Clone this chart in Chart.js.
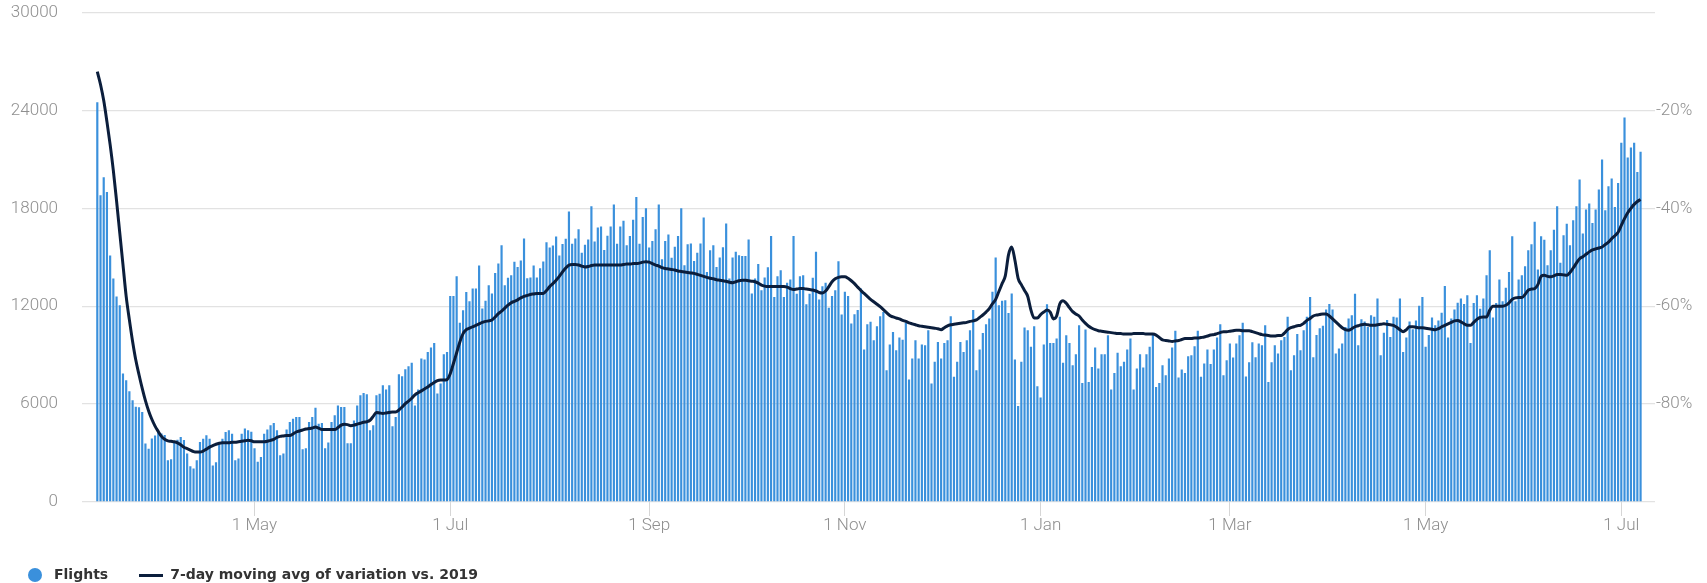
<!DOCTYPE html>
<html>
<head>
<meta charset="utf-8">
<script src="https://cdn.jsdelivr.net/npm/chart.js@4"></script>
<style>
  html, body { margin: 0; padding: 0; background: #fff; overflow: hidden; }
  #wrap { position: relative; margin-left: -8px; width: 1715px; height: 595px; }
</style>
</head>
<body>
<div id="wrap"><canvas id="flightsChart"></canvas></div>
<script>
// daily flights, first bar is Fri 13 Mar 2020, one row per week (Fri..Thu)
var firstDay = "2020-03-13";
var flights = [
  24500, 18800, 19900, 19000, 15100, 13700, 12600,
  12060, 7870, 7460, 6790, 6240, 5830, 5800,
  5520, 3580, 3270, 3890, 4070, 4290, 4200,
  4100, 2560, 2620, 3680, 3820, 3990, 3800,
  2970, 2190, 2050, 2560, 3680, 3880, 4090,
  3880, 2230, 2430, 3560, 3880, 4290, 4400,
  4190, 2560, 2660, 4190, 4500, 4400, 4300,
  3290, 2460, 2760, 4190, 4440, 4700, 4840,
  4400, 2860, 2970, 4440, 4900, 5100, 5210,
  5210, 3230, 3290, 4900, 5210, 5780, 4800,
  4840, 3290, 3640, 4900, 5310, 5920, 5820,
  5820, 3600, 3600, 5000, 5920, 6540, 6680,
  6600, 4400, 4700, 6540, 6640, 7150, 6890,
  7150, 4640, 5210, 7830, 7710, 8140, 8320,
  8530, 5920, 6890, 8790, 8730, 9200, 9470,
  9750, 6650, 7260, 9060, 9200, 12630, 12630,
  13840, 10980, 11750, 12870, 12300, 13080, 13080,
  14500, 11860, 12330, 13290, 12780, 14040, 14620,
  15740, 13290, 13740, 13900, 14720, 14410, 14800,
  16150, 13720, 13760, 14490, 13760, 14330, 14740,
  15920, 15590, 15720, 16270, 15110, 15810, 16140,
  17800, 15830, 16150, 16710, 15270, 15760, 16090,
  18130, 15960, 16830, 16890, 15440, 16320, 16890,
  18230, 15830, 16890, 17230, 15740, 16300, 17300,
  18700, 15830, 17460, 18010, 15600, 15990, 16710,
  18230, 14870, 15990, 16400, 14970, 15640, 16310,
  18010, 14510, 15790, 15850, 14770, 15280, 15840,
  17430, 14100, 15430, 15740, 14400, 14980, 15620,
  17070, 13700, 14980, 15330, 15130, 15070, 15070,
  16090, 12780, 13700, 14580, 12980, 13760, 14380,
  16300, 12570, 13840, 14200, 12570, 13430, 13630,
  16300, 12770, 13840, 13900, 12120, 12770, 13740,
  15330, 12410, 13230, 13430, 11900, 12620, 12980,
  14760, 11490, 12880, 12620, 10940, 11510, 11760,
  13080, 9340, 10900, 11040, 9910, 10770, 11380,
  11650, 8080, 9650, 10420, 9300, 10080, 9950,
  10980, 7510, 8800, 9910, 8800, 9650, 9610,
  10530, 7260, 8590, 9810, 8800, 9750, 9910,
  11380, 7670, 8590, 9810, 9200, 9910, 10530,
  11760, 8080, 9340, 10360, 10900, 11240, 12880,
  14980, 12060, 12330, 12370, 11590, 12780, 8730,
  5890, 8590, 10700, 10530, 9510, 10770, 7090,
  6400, 9650, 12120, 9750, 9750, 10020, 11350,
  8530, 10220, 9750, 8380, 9060, 10840, 7300,
  10570, 7360, 8280, 9470, 8180, 9060, 9060,
  10220, 6890, 7910, 9140, 8320, 8590, 9340,
  10020, 6890, 8180, 9060, 8240, 9060, 9510,
  10280, 7050, 7300, 8380, 7770, 8790, 9470,
  10490, 7630, 8120, 7910, 8940, 9000, 9550,
  10490, 7670, 8490, 9340, 8450, 9340, 10080,
  10900, 7770, 8690, 9710, 8850, 9710, 10220,
  10980, 7690, 8560, 9790, 8870, 9710, 9610,
  10840, 7360, 8560, 9610, 9100, 9920, 10120,
  11350, 8070, 9000, 10290, 9300, 10530, 11350,
  12570, 8870, 10240, 10650, 10800, 11800, 12130,
  11800, 9100, 9410, 9710, 10730, 11240, 11450,
  12770, 9610, 11200, 11060, 10730, 11450, 11350,
  12470, 9000, 10370, 11150, 10120, 11350, 11310,
  12470, 9200, 10080, 11060, 10590, 11120, 12020,
  12570, 9510, 10240, 11310, 10840, 11120, 11600,
  13240, 10080, 11240, 11800, 12210, 12470, 12130,
  12670, 9750, 12190, 12670, 11850, 12470, 13900,
  15430, 11310, 12190, 13630, 12310, 13130, 14090,
  16280, 12310, 13630, 13900, 14450, 15430, 15800,
  17170, 14250, 16280, 16080, 14510, 15430, 16690,
  18120, 14660, 16350, 17060, 15740, 17270, 18120,
  19760, 16450, 17920, 18290, 17100, 17920, 19150,
  20990, 17880, 19350, 19820, 18080, 19550, 22010,
  23560, 21110, 21720, 22010, 20230, 21460
];

// 7-day moving avg of variation vs. 2019, in %
var variation = [
  -12.1, -14.7, -18.0, -22.3, -27.0, -32.3, -38.5,
  -45.0, -51.5, -58.0, -62.8, -67.2, -71.0, -74.0,
  -76.8, -79.3, -81.4, -83.1, -84.5, -85.6, -86.6,
  -87.2, -87.5, -87.6, -87.7, -87.9, -88.3, -88.8,
  -89.1, -89.4, -89.7, -89.8, -89.8, -89.6, -89.2,
  -88.8, -88.5, -88.2, -88.0, -87.9, -87.9, -87.9,
  -87.8, -87.8, -87.7, -87.6, -87.5, -87.4, -87.5,
  -87.7, -87.7, -87.7, -87.7, -87.6, -87.4, -87.2,
  -86.8, -86.6, -86.5, -86.4, -86.4, -86.1, -85.7,
  -85.5, -85.3, -85.1, -85.0, -84.9, -84.7, -84.9,
  -85.2, -85.2, -85.2, -85.2, -85.2, -84.8, -84.3,
  -84.1, -84.2, -84.4, -84.3, -84.1, -83.9, -83.7,
  -83.6, -83.3, -82.5, -81.7, -81.8, -81.9, -81.8,
  -81.7, -81.6, -81.6, -81.2, -80.6, -79.9, -79.4,
  -78.8, -78.1, -77.7, -77.3, -76.9, -76.5, -76.0,
  -75.6, -75.2, -75.1, -75.1, -75.0, -73.8, -71.7,
  -69.5, -67.3, -65.6, -64.8, -64.5, -64.2, -63.9,
  -63.6, -63.3, -63.1, -63.0, -62.8, -62.2, -61.5,
  -61.0, -60.4, -59.8, -59.3, -59.0, -58.7, -58.3,
  -58.0, -57.8, -57.6, -57.5, -57.4, -57.4, -57.4,
  -56.8, -56.0, -55.4, -54.7, -53.9, -53.0, -52.2,
  -51.6, -51.5, -51.5, -51.6, -51.8, -52.0, -51.9,
  -51.7, -51.6, -51.6, -51.6, -51.6, -51.6, -51.6,
  -51.6, -51.6, -51.6, -51.5, -51.4, -51.4, -51.3,
  -51.3, -51.2, -51.0, -50.9, -51.0, -51.3, -51.6,
  -51.8, -52.1, -52.3, -52.4, -52.5, -52.6, -52.8,
  -52.9, -53.0, -53.1, -53.2, -53.3, -53.5, -53.7,
  -53.9, -54.1, -54.3, -54.4, -54.6, -54.7, -54.8,
  -54.9, -55.1, -55.2, -55.0, -54.8, -54.7, -54.7,
  -54.8, -54.9, -55.0, -55.3, -55.7, -55.9, -56.0,
  -56.0, -56.0, -56.0, -56.0, -56.0, -56.1, -56.4,
  -56.6, -56.5, -56.4, -56.4, -56.5, -56.6, -56.7,
  -56.9, -57.2, -57.3, -56.9, -56.0, -55.0, -54.4,
  -54.1, -54.0, -54.0, -54.3, -54.8, -55.4, -56.1,
  -56.8, -57.4, -58.0, -58.6, -59.1, -59.6, -60.1,
  -60.7, -61.3, -61.9, -62.2, -62.4, -62.6, -62.9,
  -63.1, -63.4, -63.6, -63.8, -64.0, -64.1, -64.2,
  -64.3, -64.4, -64.5, -64.6, -64.8, -64.4, -64.0,
  -63.8, -63.7, -63.6, -63.5, -63.4, -63.3, -63.1,
  -63.0, -62.8, -62.3, -61.8, -61.2, -60.5, -59.5,
  -58.6, -57.0, -55.4, -53.8, -49.5, -47.9, -50.6,
  -54.3, -55.6, -56.8, -58.0, -60.8, -62.4, -62.4,
  -61.7, -61.2, -60.8, -61.2, -62.6, -62.0, -59.5,
  -58.9, -59.4, -60.3, -61.1, -61.6, -62.0, -62.8,
  -63.5, -64.1, -64.5, -64.8, -65.0, -65.1, -65.2,
  -65.3, -65.4, -65.5, -65.6, -65.6, -65.7, -65.7,
  -65.7, -65.6, -65.6, -65.6, -65.6, -65.7, -65.7,
  -65.7, -65.9, -66.4, -66.9, -67.0, -67.1, -67.2,
  -67.1, -67.0, -66.8, -66.6, -66.6, -66.6, -66.5,
  -66.5, -66.4, -66.3, -66.1, -65.9, -65.8, -65.6,
  -65.4, -65.2, -65.2, -65.1, -65.0, -64.9, -64.9,
  -65.0, -65.0, -65.0, -65.2, -65.4, -65.6, -65.8,
  -65.9, -66.0, -66.1, -66.1, -66.0, -66.0, -65.5,
  -64.8, -64.4, -64.2, -64.0, -63.9, -63.5, -62.9,
  -62.5, -62.0, -61.8, -61.7, -61.6, -61.6, -62.0,
  -62.6, -63.2, -63.8, -64.4, -64.8, -64.9, -64.6,
  -64.2, -64.0, -63.8, -63.7, -63.8, -63.9, -63.9,
  -63.8, -63.7, -63.6, -63.7, -63.8, -63.9, -64.3,
  -64.8, -65.2, -64.8, -64.2, -64.2, -64.3, -64.4,
  -64.4, -64.5, -64.6, -64.7, -64.8, -64.6, -64.2,
  -63.9, -63.6, -63.3, -63.0, -62.9, -63.2, -63.6,
  -63.9, -63.9, -63.3, -62.7, -62.3, -62.2, -62.2,
  -60.8, -60.0, -60.0, -60.0, -60.0, -59.8, -59.3,
  -58.6, -58.3, -58.2, -58.2, -57.6, -56.7, -56.5,
  -56.4, -55.6, -53.9, -53.7, -53.9, -54.0, -53.8,
  -53.5, -53.5, -53.6, -53.7, -53.1, -52.2, -51.2,
  -50.3, -49.9, -49.4, -48.9, -48.5, -48.3, -48.1,
  -47.9, -47.4, -46.9, -46.2, -45.6, -44.9, -43.5,
  -42.1, -40.9, -40.0, -39.2, -38.6, -38.2
];

var tickDates = ["2020-05-01", "2020-07-01", "2020-09-01", "2020-11-01", "2021-01-01", "2021-03-01", "2021-05-01", "2021-07-01"];
var tickLabels = ["1 May", "1 Jul", "1 Sep", "1 Nov", "1 Jan", "1 Mar", "1 May", "1 Jul"];

function dayIndex(d) {
  return Math.round((Date.parse(d) - Date.parse(firstDay)) / 86400000);
}
var days = flights.map(function (v, i) { return i; });
var tickDays = tickDates.map(dayIndex);

var barColor = "#3a90dc";
var lineColor = "#0b1e3c";

// legend symbols
function makeIcon(w, h, draw) {
  var c = document.createElement("canvas");
  c.width = w; c.height = h;
  draw(c.getContext("2d"));
  return c;
}
var dotIcon = makeIcon(14, 14, function (g) {
  g.fillStyle = barColor; g.beginPath(); g.arc(7, 7, 7, 0, Math.PI * 2); g.fill();
});
var lineIcon = makeIcon(24, 3, function (g) {
  g.fillStyle = lineColor; g.fillRect(0, 0, 24, 3);
});

Chart.defaults.font.family = "Roboto";
var tickFont = {family: "Roboto", size: 17, weight: 300};
var tickColor = "#8f8f8f";

// keep axis label padding from pushing the plot area in
function fixVertical(width) {
  return function (s) {
    s.width = width;
    s.paddingTop = 0;
    s.paddingBottom = 0;
  };
}

new Chart("flightsChart", {
  type: "bar",
  data: {
    labels: days,
    datasets: [{
      type: "line",
      label: "7-day moving avg of variation vs. 2019",
      data: variation,
      yAxisID: "y1",
      borderColor: lineColor,
      backgroundColor: lineColor,
      borderWidth: 3,
      pointRadius: 0,
      cubicInterpolationMode: "monotone",
      order: 0
    }, {
      label: "Flights",
      data: flights,
      yAxisID: "y",
      backgroundColor: barColor,
      barPercentage: 0.68,
      categoryPercentage: 1,
      order: 1
    }]
  },
  options: {
    responsive: true,
    maintainAspectRatio: false,
    animation: false,
    layout: {padding: {top: 12.5, left: 0, right: 0, bottom: 3}},
    plugins: {
      tooltip: {enabled: false},
      legend: {
        position: "bottom",
        align: "start",
        labels: {
          usePointStyle: true,
          pointStyleWidth: 24,
          padding: 31,
          color: "#333",
          font: {family: "DejaVu Sans", size: 14, weight: "bold"},
          generateLabels: function (chart) {
            var items = Chart.defaults.plugins.legend.labels.generateLabels(chart);
            items.forEach(function (it) {
              it.pointStyle = it.datasetIndex === 1 ? dotIcon : lineIcon;
            });
            return items.reverse();
          }
        }
      }
    },
    scales: {
      x: {
        type: "linear",
        min: -4.77,
        max: 485.5,
        offset: false,
        afterBuildTicks: function (s) {
          s.ticks = tickDays.map(function (d) { return {value: d}; });
        },
        afterFit: function (s) {
          s.height = 35;
          s.paddingLeft = 0;
          s.paddingRight = 0;
        },
        grid: {drawOnChartArea: false, offset: false, tickLength: 14, color: "#d6d6d6"},
        border: {display: false},
        ticks: {
          autoSkip: false,
          maxRotation: 0,
          padding: 0,
          color: tickColor,
          font: tickFont,
          callback: function (v) { return tickLabels[tickDays.indexOf(v)]; }
        }
      },
      y: {
        position: "left",
        min: 0,
        max: 30000,
        afterFit: fixVertical(90),
        grid: {color: "#e2e2e2", lineWidth: 1.3, drawTicks: false},
        border: {display: false},
        ticks: {
          stepSize: 6000,
          padding: 24,
          color: tickColor,
          font: tickFont,
          callback: function (v) { return String(v); }
        }
      },
      y1: {
        position: "right",
        min: -100,
        max: 0,
        afterFit: fixVertical(52),
        grid: {display: false, drawTicks: false},
        border: {display: false},
        ticks: {
          stepSize: 20,
          padding: 1,
          color: tickColor,
          font: tickFont,
          callback: function (v) { return (v === 0 || v === -100) ? null : v + "%"; }
        }
      }
    }
  }
});
</script>
</body>
</html>
